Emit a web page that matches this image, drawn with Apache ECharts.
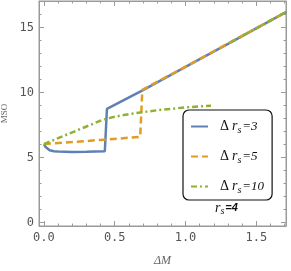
<!DOCTYPE html>
<html>
<head>
<meta charset="utf-8">
<script src="https://cdn.jsdelivr.net/npm/echarts@6/dist/echarts.min.js"></script>
<style>html,body{margin:0;padding:0;background:#fff;}#c{width:291px;height:271px;}</style>
</head>
<body>
<div id="c"></div>
<script>
// ---- data ----
var seriesNames = ['Δ r_s=3', 'Δ r_s=5', 'Δ r_s=10'];
var seriesSuffix = ['3', '5', '10'];
var blueData = [[0,6.05],[0.01,5.85],[0.02,5.72],[0.04,5.58],[0.07,5.5],[0.1,5.47],[0.2,5.44],[0.3,5.45],[0.43,5.5],[0.445,8.75],[0.7,10.2],[1.0,11.98],[1.3,13.76],[1.71,16.2]];
var orangeData = [[0,6.05],[0.2,6.2],[0.4,6.37],[0.68,6.6],[0.695,10.22],[1.0,12.0],[1.3,13.78],[1.71,16.2]];
var greenData = [[0,6.05],[0.1,6.5],[0.2,6.95],[0.3,7.4],[0.4,7.85],[0.45,8.02],[0.5,8.15],[0.6,8.35],[0.7,8.5],[0.8,8.65],[0.9,8.76],[1.0,8.87],[1.1,8.95],[1.18,9.0],[1.25,'-'],[1.32,13.88],[1.71,16.2]];
var xMajor = [0, 0.5, 1.0, 1.5];
var xLabels = ['0.0', '0.5', '1.0', '1.5'];
var yMajor = [0, 5, 10, 15];
var yLabels = ['0', '5', '10', '15'];
var annotation = 'r_s=4';

var xMinor = [];
for (var i = 1; i <= 17; i++) { if (i % 5 !== 0) xMinor.push(i / 10); }
var yMinor = [];
for (var j = 1; j <= 17; j++) { if (j % 5 !== 0) yMinor.push(j); }

var frameColor = '#9a9a9a';
var labelColor = '#555';
var XMIN = -0.035, XMAX = 1.71, YMIN = -0.25, YMAX = 17.05;

function xAxisDef(pos, major, showLabels, showLine) {
  return {
    type: 'value', position: pos, min: XMIN, max: XMAX,
    axisLine: { show: showLine, onZero: false, lineStyle: { color: frameColor, width: 1 } },
    axisTick: { show: true, inside: true, length: major ? 5 : 2.5, customValues: major ? xMajor : xMinor, lineStyle: { color: frameColor } },
    axisLabel: { show: showLabels, customValues: xMajor, color: labelColor, fontFamily: 'DejaVu Sans Mono', fontSize: 12, margin: 6,
      formatter: function (v) { var k = xMajor.indexOf(v); return k >= 0 ? xLabels[k] : ''; } },
    splitLine: { show: false },
    name: (pos === 'bottom' && major) ? 'ΔM' : '',
    nameLocation: 'middle', nameGap: 29,
    nameTextStyle: { fontFamily: 'Liberation Serif', fontStyle: 'italic', fontSize: 12, color: '#666' }
  };
}
function yAxisDef(pos, major, showLabels, showLine) {
  return {
    type: 'value', position: pos, min: YMIN, max: YMAX,
    axisLine: { show: showLine, onZero: false, lineStyle: { color: frameColor, width: 1 } },
    axisTick: { show: true, inside: true, length: major ? 5 : 2.5, customValues: major ? yMajor : yMinor, lineStyle: { color: frameColor } },
    axisLabel: { show: showLabels, customValues: yMajor, color: labelColor, fontFamily: 'DejaVu Sans Mono', fontSize: 12, margin: 5,
      formatter: function (v) { var k = yMajor.indexOf(v); return k >= 0 ? yLabels[k] : ''; } },
    splitLine: { show: false },
    name: (pos === 'left' && major) ? 'MSO' : '',
    nameLocation: 'middle', nameGap: 28, nameRotate: 90,
    nameTextStyle: { fontFamily: 'Liberation Serif', fontSize: 9, color: '#666' }
  };
}

var legendRich = {
  d: { fontFamily: 'Liberation Serif', fontSize: 14, color: '#111', padding: [0, 3, 0, 7] },
  r: { fontFamily: 'Liberation Serif', fontStyle: 'italic', fontSize: 14, color: '#111' },
  s: { fontFamily: 'Liberation Serif', fontStyle: 'italic', fontSize: 10, color: '#111', padding: [7, 1, 0, 0] },
  e: { fontFamily: 'Liberation Serif', fontStyle: 'italic', fontSize: 13, color: '#111' }
};

var chart = echarts.init(document.getElementById('c'), null, { renderer: 'canvas' });
chart.setOption({
  animation: false,
  backgroundColor: '#fff',
  grid: { left: 39, top: 1, right: 5, bottom: 45, show: true, borderColor: frameColor, borderWidth: 1,
    containLabel: false, outerBoundsMode: 'none' },
  xAxis: [
    xAxisDef('bottom', true, true, true),
    xAxisDef('bottom', false, false, false),
    xAxisDef('top', true, false, true),
    xAxisDef('top', false, false, false)
  ],
  yAxis: [
    yAxisDef('left', true, true, true),
    yAxisDef('left', false, false, false),
    yAxisDef('right', true, false, true),
    yAxisDef('right', false, false, false)
  ],
  legend: {
    orient: 'vertical', left: 183, top: 110,
    padding: [9, 8, 5, 7], itemGap: 14, itemWidth: 17, itemHeight: 12,
    borderColor: '#111', borderWidth: 1.2, borderRadius: 6, backgroundColor: '#fff',
    data: seriesNames,
    itemStyle: { opacity: 0, borderWidth: 0 },
    formatter: function (name) {
      var k = seriesNames.indexOf(name);
      return '{d|Δ}{r|r}{s|s}{e|=' + seriesSuffix[k] + '}';
    },
    textStyle: { rich: legendRich, lineHeight: 15 }
  },
  graphic: [{
    type: 'text', left: 215, top: 201,
    style: {
      text: '{r|r}{s|s}{e|=4}',
      rich: {
        r: { fontFamily: 'Liberation Serif', fontStyle: 'italic', fontSize: 14, fill: '#111' },
        s: { fontFamily: 'Liberation Serif', fontStyle: 'italic', fontSize: 10, fill: '#111', padding: [7, 1, 0, 0] },
        e: { fontFamily: 'Liberation Sans', fontStyle: 'italic', fontWeight: 'bold', fontSize: 11, fill: '#111' }
      }
    }
  }],
  series: [
    { name: seriesNames[0], type: 'line', data: blueData, showSymbol: false, symbol: 'none', color: '#5E81B5',
      lineStyle: { width: 2.5, color: '#5E81B5' }, z: 2 },
    { name: seriesNames[1], type: 'line', data: orangeData, showSymbol: false, symbol: 'none', color: '#E19C24',
      lineStyle: { width: 2.5, color: '#E19C24', type: [7, 4] }, z: 3 },
    { name: seriesNames[2], type: 'line', data: greenData, showSymbol: false, symbol: 'none', color: '#8FB032', connectNulls: false,
      lineStyle: { width: 2.5, color: '#8FB032', type: [6, 3, 2, 3] }, z: 4 }
  ]
});
</script>
</body>
</html>
